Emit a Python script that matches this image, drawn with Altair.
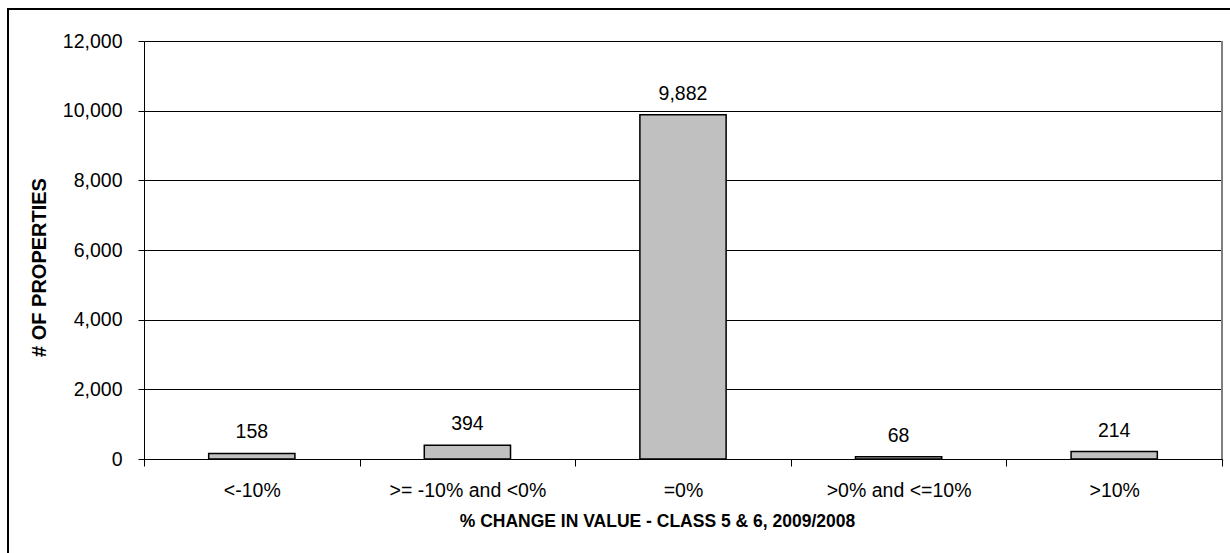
import altair as alt
import pandas as pd

# Distribution of properties by % change in value (Class 5 & 6, 2009 vs 2008)
categories = ["<-10%", ">= -10% and <0%", "=0%", ">0% and <=10%", ">10%"]
counts = [158, 394, 9882, 68, 214]
y_ticks = [0, 2000, 4000, 6000, 8000, 10000, 12000]

df = pd.DataFrame({"category": categories, "count": counts})

FONT = "Liberation Sans"

x_enc = alt.X(
    "category:N",
    sort=categories,
    scale=alt.Scale(paddingInner=0, paddingOuter=0),
    axis=alt.Axis(
        title="% CHANGE IN VALUE - CLASS 5 & 6, 2009/2008",
        labelAngle=0,
        tickBand="extent",
        tickSize=7,
        tickColor="black",
        domainColor="black",
        labelPadding=15,
        titlePadding=13,
        titleX=513,
        titleAnchor="start",
        titleAlign="center",
        grid=False,
    ),
)

y_enc = alt.Y(
    "count:Q",
    scale=alt.Scale(domain=[0, 12000]),
    axis=alt.Axis(
        title="# OF PROPERTIES",
        values=y_ticks,
        format=",d",
        tickSize=6,
        tickColor="black",
        domainColor="black",
        gridColor="black",
        gridOpacity=1,
        labelPadding=16,
        titlePadding=13,
        titleFontSize=20,
        titleY=226,
        titleAlign="center",
    ),
)

bars = alt.Chart(df).mark_bar(
    width=alt.RelativeBandSize(0.4),
    color="#C0C0C0",
    stroke="black",
    strokeWidth=1.5,
).encode(x=x_enc, y=y_enc)

labels = alt.Chart(df).mark_text(
    baseline="bottom", dy=-11, fontSize=19.5, font=FONT, color="black"
).encode(
    x=alt.X("category:N", sort=categories),
    y=alt.Y("count:Q"),
    text=alt.Text("count:Q", format=",d"),
)

# right edge of the plot area
right_edge = alt.Chart(df).mark_rule(color="#808080", strokeWidth=1.5).encode(
    x=alt.value("width"), y=alt.value(0), y2=alt.value("height")
)

# outer chart frame
frame = alt.Chart(df).mark_rect(
    fill=None, stroke="black", strokeWidth=1.5
).encode(
    x=alt.value(-136), x2=alt.value(1200), y=alt.value(-32), y2=alt.value(700)
)

chart = (
    alt.layer(frame, bars, labels, right_edge)
    .properties(
        width=1078,
        height=418,
        padding={"left": 144, "top": 41, "right": 8, "bottom": 94},
        autosize=alt.AutoSizeParams(type="none"),
        background="white",
    )
    .configure_view(stroke=None)
    .configure_axis(
        labelFont=FONT,
        labelFontSize=19.5,
        labelColor="black",
        titleFont=FONT,
        titleFontSize=17.5,
        titleFontWeight="bold",
        titleColor="black",
    )
)

chart.save("out.html", embed_options={"renderer": "svg", "actions": False})
